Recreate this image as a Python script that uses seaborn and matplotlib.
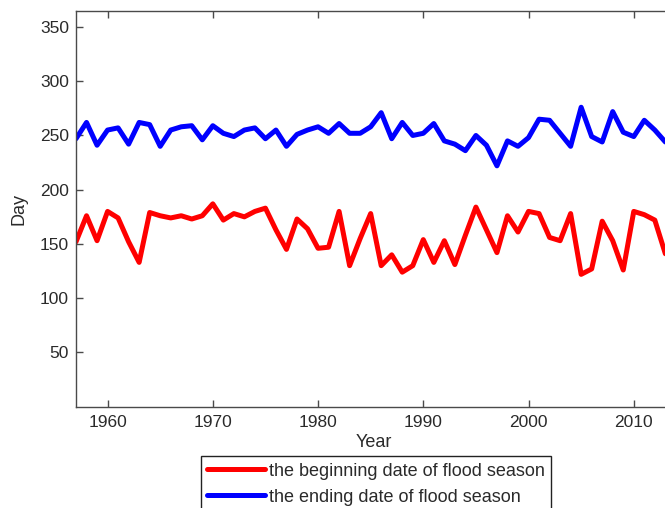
import numpy as np
import pandas as pd
import matplotlib
matplotlib.use("Agg")
import matplotlib.pyplot as plt
import seaborn as sns

years = list(range(1957, 2014))

begin_day = [152, 176, 153, 180, 174, 152, 133, 179, 176, 174,
             176, 173, 176, 187, 172, 178, 175, 180, 183, 163,
             145, 173, 164, 146, 147, 180, 130, 155, 178, 130,
             140, 124, 130, 154, 133, 153, 131, 158, 184, 163,
             142, 176, 161, 180, 178, 156, 153, 178, 122, 127,
             171, 153, 126, 180, 177, 172, 141]

end_day = [247, 262, 241, 255, 257, 242, 262, 260, 240, 255,
           258, 259, 246, 259, 252, 249, 255, 257, 247, 255,
           240, 251, 255, 258, 252, 261, 252, 252, 258, 271,
           247, 262, 250, 252, 261, 245, 242, 236, 250, 241,
           222, 245, 240, 248, 265, 264, 252, 240, 276, 249,
           244, 272, 253, 249, 264, 255, 244]

labels = ["the beginning date of flood season",
          "the ending date of flood season"]
colors = ["#ff0000", "#0000ff"]

df = pd.DataFrame({
    "Year": years * 2,
    "Day": begin_day + end_day,
    "series": [labels[0]] * len(years) + [labels[1]] * len(years),
})

sns.set_theme(style="white")
plt.rcParams["font.family"] = ["Liberation Sans", "DejaVu Sans"]

fig = plt.figure(figsize=(6.65, 5.08), dpi=100)
ax = fig.add_axes([76 / 665, 1 - 406.7 / 508, (665 - 76) / 665 + 0.01, (406.7 - 10.7) / 508])

sns.lineplot(data=df, x="Year", y="Day", hue="series", palette=colors,
             linewidth=3.6, ax=ax, legend=False)

ax.set_xlim(1957, 2013.6)
ax.set_ylim(0, 365)
ax.set_xticks([1960, 1970, 1980, 1990, 2000, 2010])
ax.set_yticks([50, 100, 150, 200, 250, 300, 350])

axis_col = "#4a4a4a"
text_col = "#2a2a2a"
for side in ["left", "bottom", "top"]:
    ax.spines[side].set_color(axis_col)
    ax.spines[side].set_linewidth(1.0)
ax.spines["right"].set_visible(False)
ax.tick_params(axis="both", direction="in", length=5, width=1.0,
               color=axis_col, labelsize=12.5, labelcolor=text_col,
               top=True, bottom=True, left=True, right=False)
ax.tick_params(axis="x", pad=6)
ax.tick_params(axis="y", pad=5)

ax.set_xlabel("Year", fontsize=13, color=text_col, labelpad=3)
ax.set_ylabel("Day", fontsize=13, color=text_col, labelpad=9)

handles = [plt.Line2D([], [], color=c, lw=3.6) for c in colors]
leg = fig.legend(handles, labels, loc="upper center",
                 bbox_to_anchor=(376 / 665, 1 - 456 / 508),
                 fontsize=13, frameon=True, fancybox=False, framealpha=1,
                 edgecolor="#222222", borderpad=0.36, labelspacing=0.5,
                 handlelength=3.2, handletextpad=0.22, borderaxespad=0)
leg.get_frame().set_linewidth(1.0)
for t in leg.get_texts():
    t.set_color(text_col)

fig.savefig("out.png", dpi=100)
